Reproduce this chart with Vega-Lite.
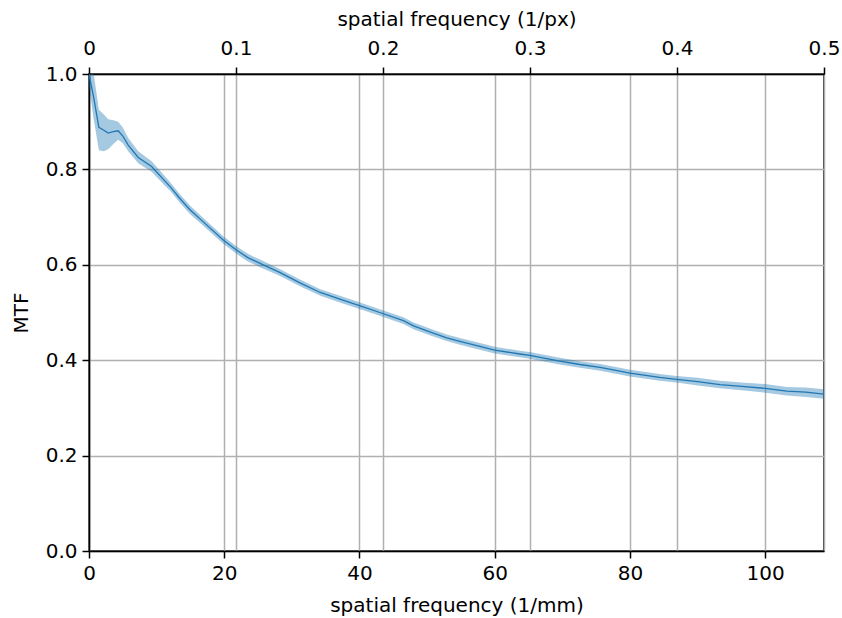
{
  "$schema": "https://vega.github.io/schema/vega-lite/v6.json",
  "width": 735,
  "height": 477,
  "autosize": {"type": "none"},
  "padding": {"left": 89, "top": 74, "right": 18, "bottom": 67},
  "background": "white",
  "config": {
    "font": "DejaVu Sans",
    "view": {"stroke": "black", "strokeWidth": 1.5},
    "axis": {
      "labelFont": "DejaVu Sans",
      "titleFont": "DejaVu Sans",
      "labelFontSize": 20,
      "titleFontSize": 20,
      "titleFontWeight": "normal",
      "labelColor": "black",
      "titleColor": "black",
      "domainColor": "black",
      "domainWidth": 1.5,
      "tickColor": "black",
      "tickWidth": 1.5,
      "tickSize": 7,
      "labelPadding": 5,
      "gridColor": "#b0b0b0",
      "gridWidth": 1.5,
      "gridOpacity": 1,
      "labelOverlap": false,
      "labelFlush": false
    }
  },
  "datasets": {
    "mtf": [
      {"f": 0.0, "mtf": 1.0, "lo": 0.975, "hi": 1.0},
      {"f": 0.7, "mtf": 0.95, "lo": 0.905, "hi": 1.0},
      {"f": 1.46, "mtf": 0.888, "lo": 0.84, "hi": 0.925},
      {"f": 2.2, "mtf": 0.882, "lo": 0.838, "hi": 0.915},
      {"f": 2.84, "mtf": 0.876, "lo": 0.842, "hi": 0.905},
      {"f": 3.6, "mtf": 0.879, "lo": 0.853, "hi": 0.903},
      {"f": 4.32, "mtf": 0.881, "lo": 0.862, "hi": 0.9},
      {"f": 5.0, "mtf": 0.87, "lo": 0.855, "hi": 0.888},
      {"f": 5.8, "mtf": 0.851, "lo": 0.838, "hi": 0.866},
      {"f": 7.28, "mtf": 0.825, "lo": 0.813, "hi": 0.838},
      {"f": 9.26, "mtf": 0.806, "lo": 0.795, "hi": 0.817},
      {"f": 11.2, "mtf": 0.776, "lo": 0.766, "hi": 0.786},
      {"f": 12.0, "mtf": 0.764, "lo": 0.755, "hi": 0.773},
      {"f": 13.5, "mtf": 0.738, "lo": 0.729, "hi": 0.747},
      {"f": 14.9, "mtf": 0.716, "lo": 0.707, "hi": 0.725},
      {"f": 16.9, "mtf": 0.69, "lo": 0.682, "hi": 0.698},
      {"f": 19.85, "mtf": 0.652, "lo": 0.644, "hi": 0.66},
      {"f": 21.8, "mtf": 0.631, "lo": 0.623, "hi": 0.639},
      {"f": 23.5, "mtf": 0.615, "lo": 0.607, "hi": 0.623},
      {"f": 25.3, "mtf": 0.603, "lo": 0.595, "hi": 0.611},
      {"f": 28.2, "mtf": 0.584, "lo": 0.577, "hi": 0.591},
      {"f": 31.2, "mtf": 0.562, "lo": 0.555, "hi": 0.569},
      {"f": 34.2, "mtf": 0.542, "lo": 0.535, "hi": 0.549},
      {"f": 37.1, "mtf": 0.528, "lo": 0.521, "hi": 0.535},
      {"f": 40.1, "mtf": 0.514, "lo": 0.507, "hi": 0.521},
      {"f": 43.0, "mtf": 0.5, "lo": 0.493, "hi": 0.507},
      {"f": 46.5, "mtf": 0.483, "lo": 0.476, "hi": 0.49},
      {"f": 48.0, "mtf": 0.472, "lo": 0.465, "hi": 0.479},
      {"f": 50.5, "mtf": 0.459, "lo": 0.452, "hi": 0.466},
      {"f": 52.9, "mtf": 0.447, "lo": 0.44, "hi": 0.454},
      {"f": 55.0, "mtf": 0.439, "lo": 0.432, "hi": 0.446},
      {"f": 57.8, "mtf": 0.429, "lo": 0.422, "hi": 0.436},
      {"f": 60.0, "mtf": 0.421, "lo": 0.414, "hi": 0.428},
      {"f": 63.7, "mtf": 0.413, "lo": 0.406, "hi": 0.42},
      {"f": 65.2, "mtf": 0.41, "lo": 0.403, "hi": 0.417},
      {"f": 69.6, "mtf": 0.398, "lo": 0.391, "hi": 0.405},
      {"f": 72.6, "mtf": 0.391, "lo": 0.384, "hi": 0.398},
      {"f": 75.6, "mtf": 0.385, "lo": 0.378, "hi": 0.392},
      {"f": 78.5, "mtf": 0.377, "lo": 0.37, "hi": 0.384},
      {"f": 80.0, "mtf": 0.373, "lo": 0.366, "hi": 0.38},
      {"f": 84.4, "mtf": 0.364, "lo": 0.357, "hi": 0.371},
      {"f": 86.9, "mtf": 0.36, "lo": 0.353, "hi": 0.367},
      {"f": 90.0, "mtf": 0.355, "lo": 0.347, "hi": 0.363},
      {"f": 93.3, "mtf": 0.349, "lo": 0.341, "hi": 0.357},
      {"f": 96.5, "mtf": 0.345, "lo": 0.337, "hi": 0.353},
      {"f": 100.0, "mtf": 0.341, "lo": 0.332, "hi": 0.35},
      {"f": 103.2, "mtf": 0.335, "lo": 0.326, "hi": 0.344},
      {"f": 106.0, "mtf": 0.333, "lo": 0.323, "hi": 0.343},
      {"f": 108.7, "mtf": 0.329, "lo": 0.319, "hi": 0.339}
    ],
    "top": [
      {"fpx": 0.0},
      {"fpx": 0.5}
    ]
  },
  "layer": [
    {
      "data": {"name": "mtf"},
      "layer": [
        {
          "mark": {"type": "area", "color": "#1f77b4", "opacity": 0.4, "clip": true},
          "encoding": {
            "x": {
              "field": "f",
              "type": "quantitative",
              "scale": {"domain": [0, 108.7], "nice": false, "zero": false},
              "axis": {
                "orient": "bottom",
                "values": [0, 20, 40, 60, 80, 100],
                "format": "d",
                "grid": true,
                "title": "spatial frequency (1/mm)",
                "titlePadding": 12
              }
            },
            "y": {
              "field": "lo",
              "type": "quantitative",
              "scale": {"domain": [0, 1], "nice": false},
              "axis": {
                "values": [0, 0.2, 0.4, 0.6, 0.8, 1.0],
                "format": ".1f",
                "grid": true,
                "title": "MTF",
                "titlePadding": 14
              }
            },
            "y2": {"field": "hi"}
          }
        },
        {
          "mark": {"type": "line", "color": "#1f77b4", "strokeWidth": 1.3, "clip": true},
          "encoding": {
            "x": {"field": "f", "type": "quantitative"},
            "y": {"field": "mtf", "type": "quantitative"}
          }
        }
      ]
    },
    {
      "data": {"name": "top"},
      "mark": {"type": "point", "opacity": 0},
      "encoding": {
        "x": {
          "field": "fpx",
          "type": "quantitative",
          "scale": {"domain": [0, 0.5], "nice": false, "zero": false},
          "axis": {
            "orient": "top",
            "values": [0, 0.1, 0.2, 0.3, 0.4, 0.5],
            "labelExpr": "datum.value === 0 ? '0' : format(datum.value, '.1f')",
            "grid": true,
            "labelPadding": 9,
            "title": "spatial frequency (1/px)",
            "titlePadding": 9
          }
        }
      }
    }
  ],
  "resolve": {"scale": {"x": "independent"}}
}
